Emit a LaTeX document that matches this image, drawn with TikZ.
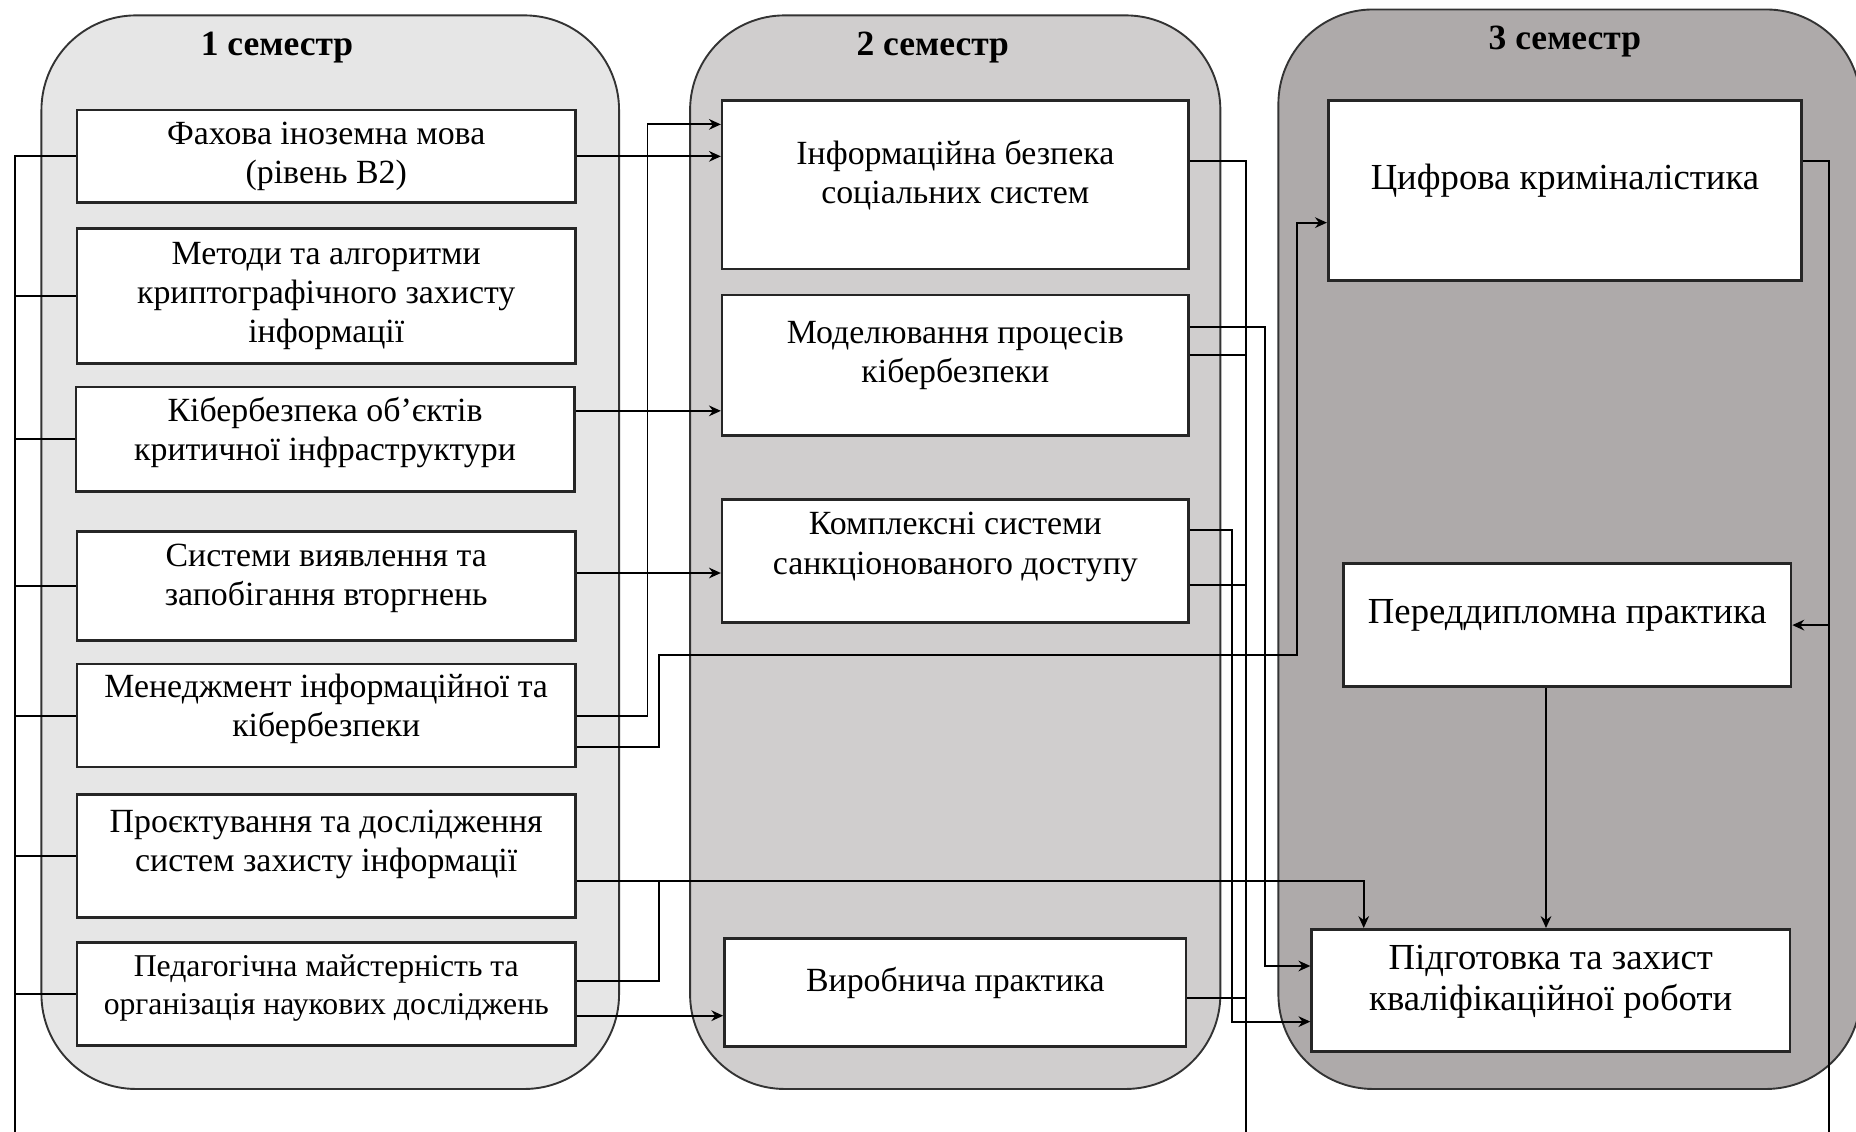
\documentclass[tikz,border=0pt]{standalone}
\usepackage{fontspec}
\setmainfont{Liberation Serif}
\usetikzlibrary{arrows.meta,calc}
\definecolor{pone}{HTML}{E6E6E6}
\definecolor{ptwo}{HTML}{D0CECE}
\definecolor{pthree}{HTML}{AEAAAA}
\begin{document}
\begin{tikzpicture}[x=0.5pt,y=-0.5pt,
  wh/.style 2 args={minimum width=#1*0.5pt, minimum height=#2*0.5pt},
  box/.style={draw=black!85, line width=1.1pt, fill=white, align=center, inner sep=1pt, font=\fontsize{14.3}{16.6}\selectfont, anchor=north west},
  smallbox/.style={box, font=\fontsize{13.4}{16.2}\selectfont},
  bigbox/.style={box, font=\fontsize{15.5}{17.5}\selectfont},
  conn/.style={line width=0.8pt, draw=black},
  arr/.style={conn, -{Stealth[length=5pt,width=4.5pt]}},
  panel/.style={draw=black!80, line width=0.8pt, rounded corners=40pt},
  ttl/.style={font=\bfseries\fontsize{15}{17}\selectfont}
]
\useasboundingbox (0,0) rectangle (1568,956);
% panels
\draw[panel, fill=pone] (35,13) rectangle (523,920);
\draw[panel, fill=ptwo] (583,13) rectangle (1031,920);
\draw[panel, fill=pthree] (1080,8) rectangle (1572,920);
\node[ttl] (t1) at (234,40) {1 семестр};
\node[ttl] (t2) at (788,40) {2 семестр};
\node[ttl] (t3) at (1322,35) {3 семестр};
% column 1
\node[box, wh={421}{78}] (fah) at (64,92) {Фахова іноземна мова\\(рівень В2)};
\node[box, wh={421}{114}] (met) at (64,192) {Методи та алгоритми\\криптографічного захисту\\інформації};
\node[box, wh={421}{88}, text depth=8.5pt] (kib) at (63,326) {Кібербезпека об’єктів\\критичної інфраструктури};
\node[box, wh={421}{92}, text depth=9.5pt] (sys) at (64,448) {Системи виявлення та\\запобігання вторгнень};
\node[box, wh={421}{87}, text depth=8.5pt] (men) at (64,560) {Менеджмент інформаційної та\\кібербезпеки};
\node[box, wh={421}{104}, text depth=12.5pt] (pro) at (64,670) {Проєктування та дослідження\\систем захисту інформації};
\node[smallbox, wh={421}{87}, text depth=7.5pt] (ped) at (64,795) {Педагогічна майстерність та\\організація наукових досліджень};
% column 2
\node[box, wh={394}{142}, text depth=11pt] (inf) at (609,84) {Інформаційна безпека\\соціальних систем};
\node[box, wh={394}{119}, text depth=11.5pt] (mod) at (609,248) {Моделювання процесів\\кібербезпеки};
\node[box, wh={394}{104}, text depth=15pt] (kom) at (609,421) {Комплексні системи\\санкціонованого доступу};
\node[box, wh={390}{91}, text depth=11pt] (vyr) at (611,792) {Виробнича практика};
% column 3
\node[bigbox, wh={400}{152}, text depth=11.5pt] (cyf) at (1121,84) {Цифрова криміналістика};
\node[bigbox, wh={378}{104}, text depth=11.5pt] (per) at (1134,475) {Переддипломна практика};
\node[bigbox, wh={404}{103}, text depth=10.5pt] (pid) at (1107,784) {Підготовка та захист\\кваліфікаційної роботи};
% helper coordinates
\coordinate (busL) at (13,956);
\coordinate (xA) at (547,0);
\coordinate (xB) at (557,0);
\coordinate (xC) at (1096,0);
\coordinate (xD) at (1053,956);
\coordinate (xE) at (1069,0);
\coordinate (xF) at (1041,0);
\coordinate (xG) at (1545,956);
\coordinate (yH) at (0,553);
% left bus
\draw[conn] (busL) |- (fah.west);
\foreach \n in {met,kib,sys,men,pro,ped} \draw[conn] (\n.west) -- (\n.west -| busL);
% column 1 -> column 2 / 3
\draw[arr] (fah.east) -- (fah.east -| inf.west);
\coordinate (infA) at ([yshift=25.5pt]inf.west);
\draw[arr] (men.east) -| (xA |- infA) -- (infA);
\coordinate (menB) at ([yshift=-13.25pt]men.east);
\coordinate (cyfIn) at ([yshift=-13.5pt]cyf.west);
\draw[arr] (menB) -| (xB |- yH) -| (xC |- cyfIn) -- (cyfIn);
\coordinate (kibO) at ([yshift=12pt]kib.east);
\draw[arr] (kibO) -- (kibO -| mod.west);
\coordinate (sysO) at ([yshift=5.5pt]sys.east);
\draw[arr] (sysO) -- (sysO -| kom.west);
\coordinate (proO) at ([yshift=-10.5pt]pro.east);
\coordinate (pidT) at ([xshift=-79pt]pid.north);
\draw[arr] (proO) -| (pidT);
\coordinate (pedA) at ([yshift=5.25pt]ped.east);
\draw[conn] (pedA) -| (xB |- proO);
\coordinate (pedB) at ([yshift=-9.25pt]ped.east);
\draw[arr] (pedB) -- (pedB -| vyr.west);
% column 2 -> column 3
\coordinate (infO) at ([yshift=10pt]inf.east);
\draw[conn] (infO) -| (xD);
\coordinate (modA) at ([yshift=16.25pt]mod.east);
\coordinate (pidA) at ([yshift=10.25pt]pid.west);
\draw[arr] (modA) -| (xE |- pidA) -- (pidA);
\coordinate (modB) at ([yshift=4.25pt]mod.east);
\draw[conn] (modB) -- (modB -| xD);
\coordinate (komA) at ([yshift=13pt]kom.east);
\coordinate (pidB) at ([yshift=-13.25pt]pid.west);
\draw[arr] (komA) -| (xF |- pidB) -- (pidB);
\coordinate (komB) at ([yshift=-10pt]kom.east);
\draw[conn] (komB) -- (komB -| xD);
\coordinate (vyrO) at ([yshift=-2.25pt]vyr.east);
\draw[conn] (vyrO) -- (vyrO -| xD);
% column 3
\coordinate (cyfO) at ([yshift=12.5pt]cyf.east);
\draw[conn] (cyfO) -| (xG);
\draw[arr] (per.east -| xG) -- (per.east);
\coordinate (perS) at ([xshift=-9pt]per.south);
\draw[arr] (perS) -- (perS |- pid.north);
\end{tikzpicture}
\end{document}
